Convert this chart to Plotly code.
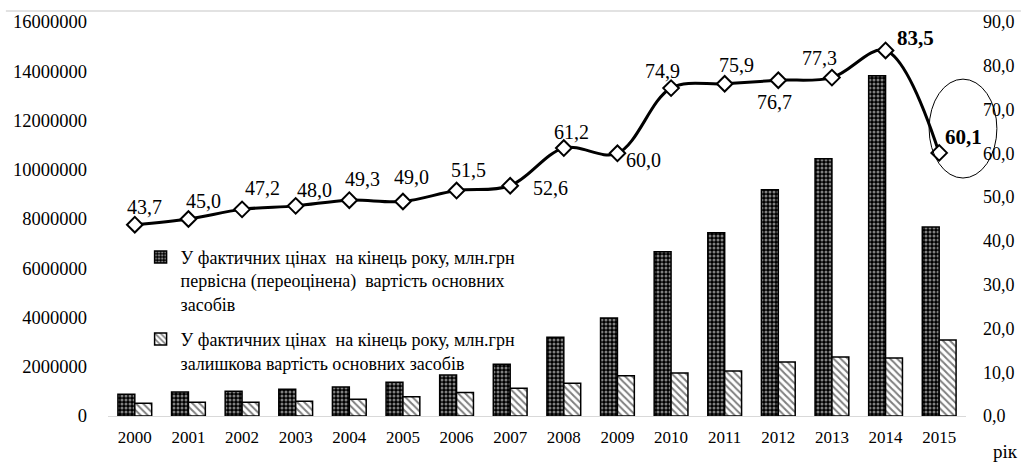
import plotly.graph_objects as go

years = [str(y) for y in range(2000, 2016)]
initial_value = [880000, 970000, 1010000, 1090000, 1180000, 1370000, 1660000, 2100000,
                 3200000, 3980000, 6670000, 7440000, 9190000, 10450000, 13820000, 7680000]
residual_value = [520000, 560000, 560000, 600000, 680000, 780000, 950000, 1130000,
                  1330000, 1630000, 1750000, 1830000, 2190000, 2400000, 2360000, 3090000]
wear_pct = [43.7, 45.0, 47.2, 48.0, 49.3, 49.0, 51.5, 52.6,
            61.2, 60.0, 74.9, 75.9, 76.7, 77.3, 83.5, 60.1]
bold_idx = [14, 15]

name1 = "У фактичних цінах  на кінець року, млн.грн<br>первісна (переоцінена)  вартість основних<br>засобів"
name2 = "У фактичних цінах  на кінець року, млн.грн<br>залишкова вартість основних засобів"

# label offsets (px) relative to markers
label_dx = [10, 15, 20, 19, 13, 9, 12, 40, 8, 26, -9, 12, -4, -12, 30, 24]
label_dy = [-18, -18, -21, -16, -21, -24, -21, 2, -16, 7, -17, -19, 22, -20, -12, -16]

FONT = "Liberation Serif"

fig = go.Figure()
fig.add_trace(go.Bar(
    x=years, y=initial_value, name=name1, legendgroup="a",
    marker=dict(color="black", line=dict(color="black", width=1.5),
                pattern=dict(shape=".", fgcolor="white", bgcolor="black", size=4, solidity=0.45)),
))
fig.add_trace(go.Bar(
    x=years, y=residual_value, name=name2, legendgroup="b",
    marker=dict(color="white", line=dict(color="black", width=1.5),
                pattern=dict(shape="\\", fgcolor="black", bgcolor="white", size=5, solidity=0.4)),
))
fig.add_trace(go.Scatter(
    x=years, y=wear_pct, yaxis="y2", mode="lines+markers", showlegend=False,
    line=dict(color="black", width=3, shape="spline", smoothing=1.0),
    marker=dict(symbol="diamond", size=12, color="white", line=dict(color="black", width=2)),
))

annotations = []
for i, v in enumerate(wear_pct):
    txt = f"{v:.1f}".replace(".", ",")
    bold = i in bold_idx
    annotations.append(dict(
        x=i, y=v, xref="x", yref="y2", text=f"<b>{txt}</b>" if bold else txt,
        showarrow=False, xshift=label_dx[i], yshift=-label_dy[i],
        font=dict(family=FONT, size=21 if bold else 20, color="black"),
    ))
annotations.append(dict(x=1.046, y=-0.089, xref="paper", yref="paper", text="рік",
                        xanchor="center", yanchor="middle",
                        showarrow=False, font=dict(family=FONT, size=19, color="black")))

fig.update_layout(
    width=1027, height=463,
    margin=dict(l=108, r=55, t=22, b=47),
    paper_bgcolor="white", plot_bgcolor="white",
    separators=", ",
    barmode="group", bargap=0.37, bargroupgap=0,
    font=dict(family=FONT, size=17, color="black"),
    xaxis=dict(type="category", range=[-0.5, 15.5], showline=True, linecolor="#d9d9d9",
               linewidth=1, ticks="", showgrid=False, ticklabelstandoff=6,
               tickfont=dict(family=FONT, size=17, color="black")),
    yaxis=dict(range=[0, 16000000], dtick=2000000, tickformat="d", showgrid=False,
               zeroline=False, ticklabelstandoff=20,
               tickfont=dict(family=FONT, size=18.5, color="black")),
    yaxis2=dict(range=[0, 90], dtick=10, tickformat=".1f", overlaying="y", side="right",
                showgrid=False, zeroline=False, ticklabelstandoff=16,
                tickfont=dict(family=FONT, size=18, color="black")),
    legend=dict(x=0.038, y=0.45, xanchor="left", yanchor="top", bgcolor="rgba(0,0,0,0)",
                font=dict(family=FONT, size=18, color="black"), valign="top",
                tracegroupgap=9, traceorder="grouped"),
    annotations=annotations,
    shapes=[
        dict(type="circle", xref="paper", yref="paper", x0=0.957, x1=1.036, y0=0.604, y1=0.855,
             line=dict(color="black", width=1)),
        dict(type="line", xref="paper", yref="paper", x0=-0.119, x1=1.064, y0=1.028, y1=1.028,
             line=dict(color="#d9d9d9", width=1.5)),
    ],
)

fig.write_html("out.html", config={"displayModeBar": False},
               post_script="document.body.style.margin='0';document.body.style.overflow='hidden';")
